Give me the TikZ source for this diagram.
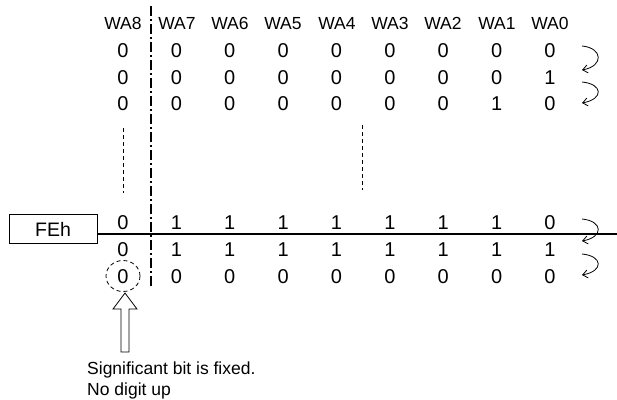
\documentclass[tikz,border=0pt]{standalone}
\usepackage{fontspec}
\setmainfont{Liberation Sans}
\usetikzlibrary{arrows.meta,shapes.geometric}
\begin{document}
\begin{tikzpicture}[x=1pt,y=-1pt,
  hdr/.style={font=\fontsize{17.5}{18}\selectfont, inner sep=0pt, anchor=base},
  dig/.style={font=\fontsize{20}{20}\selectfont, inner sep=0pt, anchor=base},
  captxt/.style={font=\fontsize{17.5}{18}\selectfont, inner sep=0pt, anchor=base west},
  carrow/.style={line width=0.8pt, -{Straight Barb[length=5pt,width=8pt]}},
  shortdash/.style={line width=0.8pt, dash pattern=on 4pt off 3pt},
  dashdot/.style={line width=1.6pt, dash pattern=on 10pt off 3pt on 2pt off 3pt}]
\useasboundingbox (0,0) rectangle (617,399);
% headers
\foreach \i/\x in {8/123,7/177,6/230,5/283,4/337,3/390,2/443,1/497,0/550}
  \node[hdr] (h\i) at (\x,29) {WA\i};
% rows
\foreach \r/\y/\vals in {1/57/{0,0,0,0,0,0,0,0,0},2/84/{0,0,0,0,0,0,0,0,1},3/110/{0,0,0,0,0,0,0,1,0},
  4/229/{0,1,1,1,1,1,1,1,0},5/256/{0,1,1,1,1,1,1,1,1},6/283/{0,0,0,0,0,0,0,0,0}}{
  \foreach \v [count=\c] in \vals {
    \pgfmathsetmacro{\xx}{123+(\c-1)*53.375}
    \node[dig] (r\r c\c) at (\xx,\y) {\v};
  }
}
% FEh box and line
\node[draw, line width=0.8pt, minimum width=88pt, minimum height=29pt, inner sep=0pt,
  font=\fontsize{19.5}{20}\selectfont] (feh) at (53,229) {FEh};
\coordinate (lineend) at (617,234);
\draw[line width=1.6pt] (feh.east |- 0,234) -- (lineend);
% dash-dot separator
\coordinate (sepT) at (151,6);
\coordinate (sepB) at (151,288);
\draw[dashdot] (sepT) -- (sepB);
% short dashed ellipsis lines
\coordinate (d1T) at (123,128); \coordinate (d1B) at (123,193);
\coordinate (d2T) at (362,125); \coordinate (d2B) at (362,190);
\draw[shortdash] (d1T) -- (d1B);
\draw[shortdash] (d2T) -- (d2B);
% dashed circle
\node[draw, line width=0.8pt, ellipse, minimum width=34pt, minimum height=31pt, inner sep=0pt,
  dash pattern=on 4pt off 3pt] (circ) at (123,276) {};
% block arrow
\draw[line width=0.8pt] (125,293) -- (137,309) -- (129,309) -- (129,352) -- (121,352) -- (121,309) -- (113,309) -- cycle;
% caption
\node[captxt] (cap1) at (87,374) {Significant bit is fixed.};
\node[captxt] (cap2) at (87,395) {No digit up};
% curved arrows
\foreach \k/\ya/\yb in {1/46/70,2/82/103,3/219/241,4/254/275}{
  \coordinate (a\k s) at (582,\ya);
  \coordinate (a\k e) at (582,\yb);
  \draw[carrow] (a\k s) .. controls (603,\ya+2) and (604,\yb-4) .. (a\k e);
}
\end{tikzpicture}
\end{document}
